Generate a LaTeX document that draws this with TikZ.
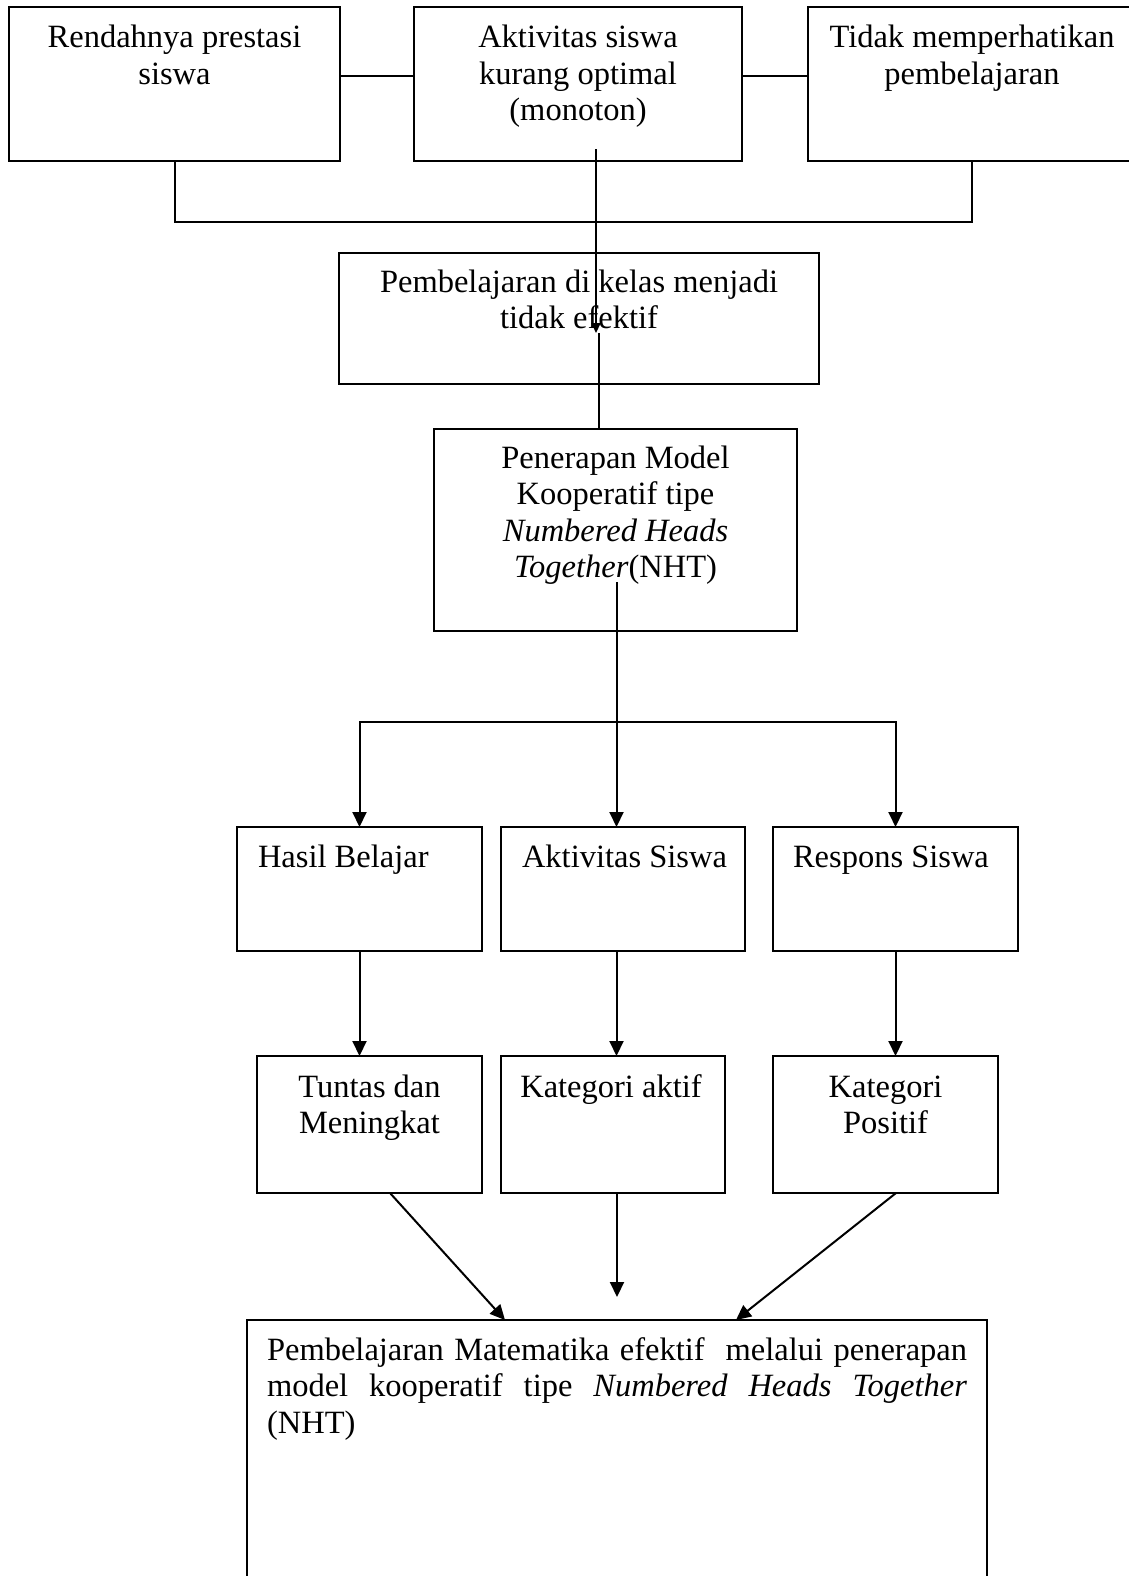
\documentclass[tikz,border=0pt]{standalone}
\usepackage{fontspec}
\setmainfont{Liberation Serif}
\usetikzlibrary{arrows.meta}
\newcommand{\boxtext}[2]{\parbox[t]{#1}{\centering #2}}
\begin{document}
\begin{tikzpicture}[x=1pt,y=-1pt,
  box/.style={draw, line width=2pt, rectangle, inner sep=0pt, outer sep=0pt},
  lbl/.style={anchor=base, inner sep=0pt, outer sep=0pt, font=\fontsize{32.5}{36.5}\selectfont},
  lblw/.style={lbl, anchor=base west},
  conn/.style={line width=2pt},
  arr/.style={line width=2pt, -{Triangle[length=15pt,width=14pt]}},
  arrs/.style={line width=2pt, -{Triangle[length=10pt,width=9pt]}}]
\useasboundingbox (0,0) rectangle (1129,1576);
\fill[white] (0,0) rectangle (1129,1576);
\clip (0,0) rectangle (1129,1576);

% boxes
\node[box, minimum width=331pt, minimum height=154pt] (b1) at (174.5,84) {};
\node[box, minimum width=328pt, minimum height=154pt] (b2) at (578,84) {};
\node[box, minimum width=328pt, minimum height=154pt] (b3) at (972,84) {};
\node[box, minimum width=480pt, minimum height=131pt] (b4) at (579,318.5) {};
\node[box, minimum width=363pt, minimum height=202pt] (b5) at (615.5,530) {};
\node[box, minimum width=245pt, minimum height=124pt] (h1) at (359.5,889) {};
\node[box, minimum width=244pt, minimum height=124pt] (h2) at (623,889) {};
\node[box, minimum width=245pt, minimum height=124pt] (h3) at (895.5,889) {};
\node[box, minimum width=225pt, minimum height=137pt] (k1) at (369.5,1124.5) {};
\node[box, minimum width=224pt, minimum height=137pt] (k2) at (613,1124.5) {};
\node[box, minimum width=225pt, minimum height=137pt] (k3) at (885.5,1124.5) {};
\node[box, minimum width=740pt, minimum height=300pt] (fin) at (617,1470) {};

% texts
\node[lbl] (t1) at (174.5,48) {\boxtext{320pt}{Rendahnya prestasi\\siswa}};
\node[lbl] (t2) at (578,48) {\boxtext{320pt}{Aktivitas siswa\\kurang optimal\\(monoton)}};
\node[lbl] (t3) at (972,48) {\boxtext{320pt}{Tidak memperhatikan\\pembelajaran}};
\node[lbl] (t4) at (579,292) {\boxtext{460pt}{Pembelajaran di kelas menjadi\\tidak efektif}};
\node[lbl] (t5) at (615.5,468) {\boxtext{340pt}{Penerapan Model\\Kooperatif tipe\\\textit{Numbered Heads}\\\textit{Together}(NHT)}};
\node[lblw] (t6) at (258,867) {Hasil Belajar};
\node[lblw] (t7) at (522,867) {Aktivitas Siswa};
\node[lblw] (t8) at (793,867) {Respons Siswa};
\node[lbl] (t9) at (369.5,1097) {\boxtext{220pt}{Tuntas dan\\Meningkat}};
\node[lbl] (t10) at (611,1097) {\boxtext{220pt}{Kategori aktif}};
\node[lbl] (t11) at (885.5,1097) {\boxtext{220pt}{Kategori\\Positif}};
\node[lblw] (t12) at (267,1360) {\parbox[t]{700pt}{Pembelajaran Matematika efektif\ \ melalui penerapan\linebreak model kooperatif tipe \textit{Numbered Heads Together}\linebreak (NHT)}};

% top connectors
\coordinate (y76) at (0,76);
\coordinate (y222) at (0,222);
\draw[conn] (b1.east |- y76) -- (b2.west |- y76);
\draw[conn] (b2.east |- y76) -- (b3.west |- y76);
\draw[conn] (b1.south) -- (b1.south |- y222) -| (b3.south);

\coordinate (a1) at (596,149);
\coordinate (a2) at (596,333);
\draw[arrs] (a1) -- (a2);
\coordinate (a3) at (599,333);
\draw[conn] (a3) -- (a3 |- b5.north);

% branching
\coordinate (c1) at (616.5,582);
\coordinate (c2) at (616.5,722);
\draw[conn] (c1) -- (c2);
\draw[arr] (c2) -- (c2 |- h2.north);
\draw[arr] (c2) -| (h1.north);
\draw[arr] (c2) -| (h3.north);

\draw[arr] (h1.south) -- (h1.south |- k1.north);
\draw[arr] (c2 |- h2.south) -- (c2 |- k2.north);
\draw[arr] (h3.south) -- (h3.south |- k3.north);

% to final box
\coordinate (s1) at (390,1193);
\coordinate (e1) at (505,1320);
\coordinate (s2) at (617,1193);
\coordinate (e2) at (617,1297);
\coordinate (s3) at (896,1193);
\coordinate (e3) at (736,1320);
\draw[arr] (s1) -- (e1);
\draw[arr] (s2) -- (e2);
\draw[arr] (s3) -- (e3);
\end{tikzpicture}
\end{document}
